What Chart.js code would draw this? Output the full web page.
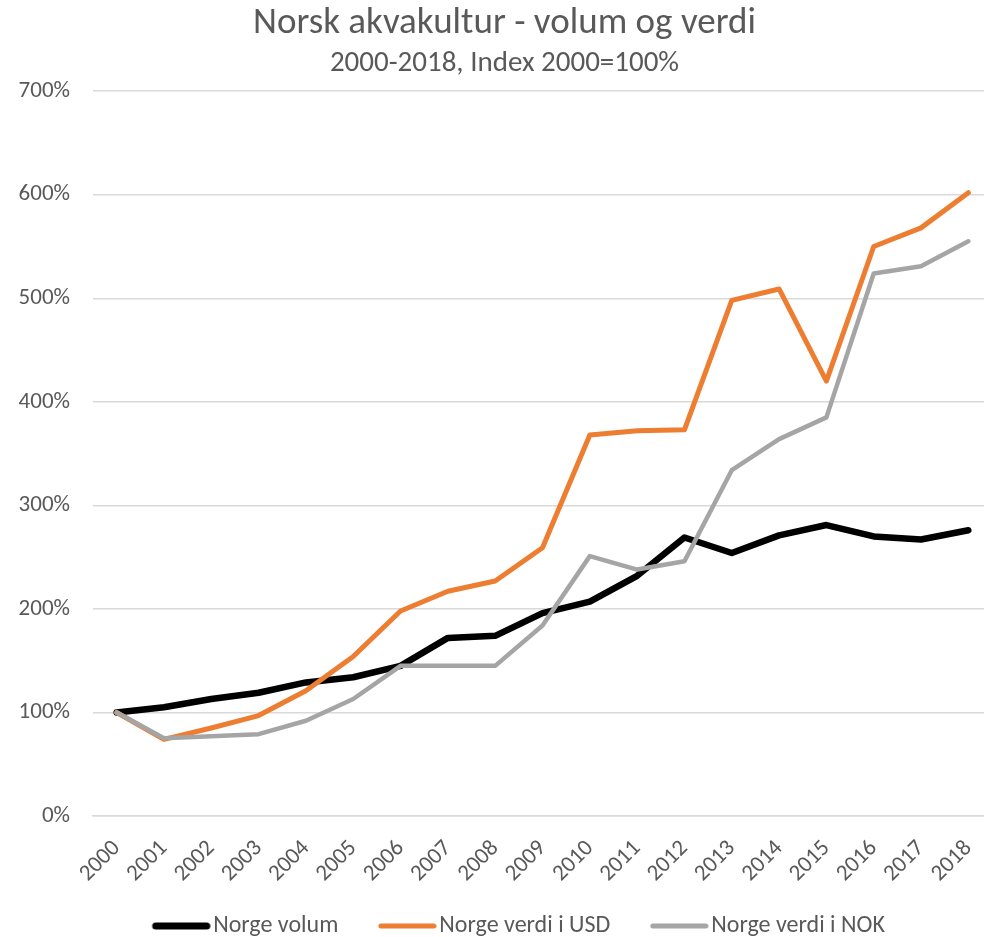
<!DOCTYPE html>
<html>
<head>
<meta charset="utf-8">
<script src="https://cdn.jsdelivr.net/npm/chart.js@4/dist/chart.umd.min.js"></script>
<style>
  html, body { margin: 0; padding: 0; background: #fff; overflow: hidden; }
  .chartContainer { position: relative; width: 992px; height: 937px; }
</style>
</head>
<body>
<div class="chartContainer">
  <canvas id="chart"></canvas>
</div>
<script>
const years = ['2000','2001','2002','2003','2004','2005','2006','2007','2008','2009',
               '2010','2011','2012','2013','2014','2015','2016','2017','2018'];

// index values, 2000 = 100 %
const volum   = [100, 105, 113, 119, 129, 134, 145, 172, 174, 196, 207, 232, 269, 254, 271, 281, 270, 267, 276];
const verdiUSD = [100, 74, 85, 97, 121, 154, 198, 217, 227, 259, 368, 372, 373, 498, 509, 420, 550, 568, 602];
const verdiNOK = [100, 75, 77, 79, 92, 113, 145, 145, 145, 184, 251, 238, 246, 334, 364, 385, 524, 531, 555];

const yTicks = [0, 100, 200, 300, 400, 500, 600, 700];

const fontFamily = "Carlito, 'Liberation Sans Narrow', 'Open Sans', sans-serif";
const textColor = '#595959';

// legend sample: a round-capped line drawn in the right part of a wider image,
// so that it ends just before the label text
function legendLine(color, width) {
  const c = document.createElement('canvas');
  c.width = 96; c.height = 12;
  const ctx = c.getContext('2d');
  ctx.strokeStyle = color;
  ctx.lineWidth = width;
  ctx.lineCap = 'round';
  ctx.beginPath();
  ctx.moveTo(37.5 + width / 2, 6);
  ctx.lineTo(95.5 - width / 2, 6);
  ctx.stroke();
  return c;
}

const chartSpec = {
  type: 'line',
  data: {
    labels: years,
    datasets: [
      { label: 'Norge volum', data: volum, borderColor: '#000000', backgroundColor: '#000000',
        borderWidth: 6.5, order: 3, pointStyle: legendLine('#000000', 7) },
      { label: 'Norge verdi i USD', data: verdiUSD, borderColor: '#ED7D31', backgroundColor: '#ED7D31',
        borderWidth: 5, order: 2, pointStyle: legendLine('#ED7D31', 5) },
      { label: 'Norge verdi i NOK', data: verdiNOK, borderColor: '#A5A5A5', backgroundColor: '#A5A5A5',
        borderWidth: 4.5, order: 1, pointStyle: legendLine('#A5A5A5', 5) }
    ]
  },
  options: {
    responsive: true,
    maintainAspectRatio: false,
    animation: false,
    layout: { padding: { left: 17, right: 0, top: 2, bottom: -11 } },
    elements: {
      point: { radius: 0 },
      line: { tension: 0, borderCapStyle: 'round', borderJoinStyle: 'round' }
    },
    plugins: {
      title: {
        display: true,
        text: 'Norsk akvakultur - volum og verdi',
        color: textColor,
        font: { family: fontFamily, size: 37, weight: 'normal' },
        padding: { top: 0, bottom: 0 }
      },
      subtitle: {
        display: true,
        text: '2000-2018, Index 2000=100%',
        color: textColor,
        font: { family: fontFamily, size: 29, weight: 'normal' },
        padding: { top: 0, bottom: 10 }
      },
      legend: {
        position: 'bottom',
        labels: {
          color: textColor,
          font: { family: fontFamily, size: 24 },
          usePointStyle: true,
          pointStyleWidth: 77,
          padding: 12,
          sort: (a, b) => a.datasetIndex - b.datasetIndex
        }
      },
      tooltip: { enabled: false }
    },
    scales: {
      x: {
        offset: true,
        grid: { display: false },
        border: { color: '#D9D9D9', width: 1.5 },
        ticks: {
          color: textColor,
          font: { family: fontFamily, size: 23 },
          maxRotation: 45, minRotation: 45,
          autoSkip: false,
          padding: 11
        },
        afterFit: axis => { axis.paddingLeft = 0; axis.paddingRight = 0; axis.height = 86; }
      },
      y: {
        min: 0, max: 700,
        afterBuildTicks: axis => { axis.ticks = yTicks.map(v => ({ value: v })); },
        afterFit: axis => { axis.width = 76; },
        grid: { color: '#D9D9D9', lineWidth: 1.5, drawTicks: false },
        border: { display: false },
        ticks: {
          color: textColor,
          font: { family: fontFamily, size: 23 },
          padding: 23,
          callback: v => v + '%'
        }
      }
    }
  }
};

new Chart(document.getElementById('chart').getContext('2d'), chartSpec);
</script>
</body>
</html>
